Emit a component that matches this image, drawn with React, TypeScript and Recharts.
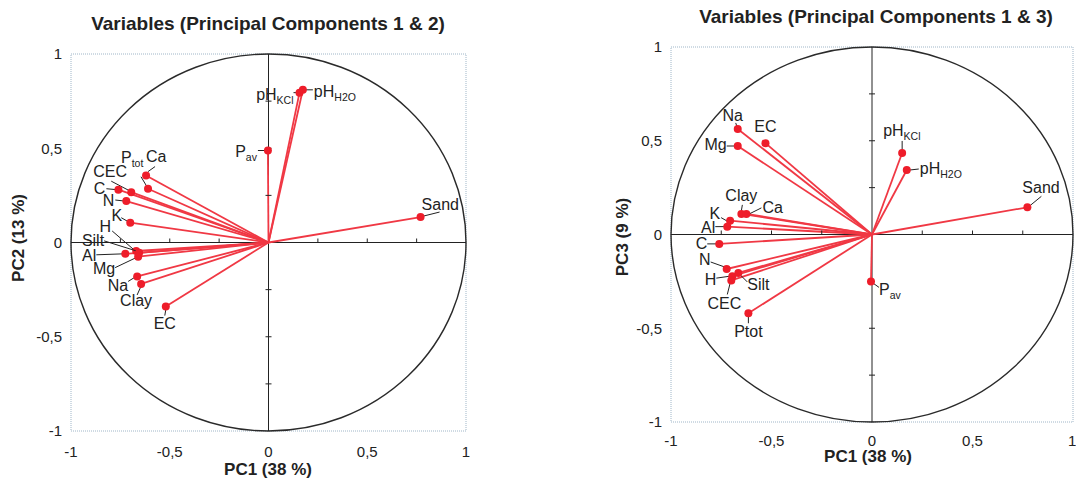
import React from "react";
import {
  ScatterChart,
  Scatter,
  XAxis,
  YAxis,
  ReferenceLine,
  ReferenceArea,
  ReferenceDot,
} from "recharts";

// loadings on PC1 / PC2
const pc12 = [
  { name: "pH_KCl", x: 0.157, y: 0.795 },
  { name: "pH_H2O", x: 0.174, y: 0.81 },
  { name: "P_av", x: -0.003, y: 0.488 },
  { name: "Sand", x: 0.77, y: 0.135 },
  { name: "Ca", x: -0.62, y: 0.355 },
  { name: "P_tot", x: -0.61, y: 0.285 },
  { name: "CEC", x: -0.695, y: 0.267 },
  { name: "C", x: -0.76, y: 0.28 },
  { name: "N", x: -0.72, y: 0.22 },
  { name: "K", x: -0.7, y: 0.105 },
  { name: "H", x: -0.67, y: -0.045 },
  { name: "Silt", x: -0.655, y: -0.055 },
  { name: "Al", x: -0.725, y: -0.06 },
  { name: "Mg", x: -0.66, y: -0.075 },
  { name: "Na", x: -0.665, y: -0.18 },
  { name: "Clay", x: -0.645, y: -0.22 },
  { name: "EC", x: -0.52, y: -0.34 },
];

// loadings on PC1 / PC3
const pc13 = [
  { name: "Na", x: -0.668, y: 0.563 },
  { name: "EC", x: -0.53, y: 0.487 },
  { name: "Mg", x: -0.668, y: 0.472 },
  { name: "Clay", x: -0.65, y: 0.11 },
  { name: "Ca", x: -0.625, y: 0.11 },
  { name: "K", x: -0.706, y: 0.074 },
  { name: "Al", x: -0.72, y: 0.042 },
  { name: "C", x: -0.76, y: -0.05 },
  { name: "N", x: -0.723, y: -0.184 },
  { name: "H", x: -0.695, y: -0.222 },
  { name: "CEC", x: -0.7, y: -0.245 },
  { name: "Silt", x: -0.665, y: -0.205 },
  { name: "Ptot", x: -0.615, y: -0.42 },
  { name: "P_av", x: -0.005, y: -0.25 },
  { name: "pH_KCl", x: 0.15, y: 0.435 },
  { name: "pH_H2O", x: 0.173, y: 0.344 },
  { name: "Sand", x: 0.773, y: 0.145 },
];

const axisTicks = [-1, -0.5, 0, 0.5, 1];
const minorTicks = [-0.75, -0.5, -0.25, 0.25, 0.5, 0.75];

type Lay = { a: "start" | "middle" | "end"; dx: number; dy: number; l?: number[] };

// label placement (px, relative to the point) + leader line
const lay12: Record<string, Lay> = {
  Ca: { a: "start", dx: 0, dy: -14, l: [2, -4, 9, -9] },
  P_tot: { a: "start", dx: -27, dy: -26, l: [-1, -2, -7, -12] },
  CEC: { a: "start", dx: -38, dy: -15, l: [-1, -1, -20, -11] },
  C: { a: "end", dx: -13, dy: 4, l: [-1, 0, -12, -1] },
  N: { a: "end", dx: -12, dy: 5, l: [-2, 0, -11, -1] },
  K: { a: "end", dx: -8, dy: -2, l: [-2, -1, -9, -5] },
  H: { a: "end", dx: -25, dy: -19, l: [-2, -1, -24, -20] },
  Silt: { a: "end", dx: -35, dy: -7, l: [-3, -2, -35, -12] },
  Al: { a: "end", dx: -29, dy: 7, l: [-1, 0, -29, 1] },
  Mg: { a: "end", dx: -23, dy: 17, l: [-2, 1, -23, 11] },
  Na: { a: "end", dx: -9, dy: 15, l: [-1, 0, -9, 5] },
  Clay: { a: "middle", dx: -5, dy: 22, l: [0, 2, -4, 11] },
  EC: { a: "middle", dx: -1, dy: 22, l: [0, 3, -1, 9] },
  pH_KCl: { a: "end", dx: -6, dy: 7, l: [-1, 0, -6, 0] },
  pH_H2O: { a: "start", dx: 11, dy: 7, l: [1, 0, 10, 0] },
  P_av: { a: "end", dx: -11, dy: 6, l: [-2, 0, -10, 0] },
  Sand: { a: "start", dx: 1, dy: -7, l: [3, -1, 19, -5] },
};

const lay13: Record<string, Lay> = {
  Na: { a: "middle", dx: -5, dy: -8, l: [-1, -3, -2, -6] },
  EC: { a: "middle", dx: 0, dy: -11 },
  Mg: { a: "end", dx: -11, dy: 4, l: [-2, 0, -11, 0] },
  Clay: { a: "middle", dx: 0, dy: -13, l: [0, -3, 1, -9] },
  Ca: { a: "start", dx: 16, dy: -1, l: [3, 0, 15, -6] },
  K: { a: "end", dx: -10, dy: -2, l: [-2, 1, -9, -3] },
  Al: { a: "end", dx: -12, dy: 6, l: [-2, 0, -12, 0] },
  C: { a: "end", dx: -12, dy: 5, l: [-2, 0, -12, 0] },
  N: { a: "end", dx: -16, dy: -4, l: [-2, -2, -16, -7] },
  H: { a: "end", dx: -16, dy: 9, l: [-2, 0, -16, 2] },
  CEC: { a: "middle", dx: -7, dy: 29, l: [-1, 2, -4, 14] },
  Silt: { a: "start", dx: 9, dy: 17, l: [2, 2, 9, 9] },
  Ptot: { a: "middle", dx: 0, dy: 24, l: [0, 3, 0, 10] },
  P_av: { a: "start", dx: 8, dy: 14, l: [1, 1, 8, 6] },
  pH_KCl: { a: "start", dx: -19, dy: -17, l: [0, -3, 0, -12] },
  pH_H2O: { a: "start", dx: 13, dy: 4, l: [3, 0, 12, -1] },
  Sand: { a: "start", dx: -5, dy: -14, l: [3, -2, 14, -11] },
};

const FONT = "'Liberation Sans', Arial, sans-serif";
const RED = "#ee1d2a";
const TXT = "#222";

const fmt = (v: number) => String(v).replace(".", ",");

const makeShape = (lay: Record<string, Lay>) => (props: any) => {
  const { cx, cy, payload } = props;
  const L = lay[payload.name];
  const [main, sub] = payload.name.split("_");
  return (
    <g>
      {L.l && (
        <line
          x1={cx + L.l[0]}
          y1={cy + L.l[1]}
          x2={cx + L.l[2]}
          y2={cy + L.l[3]}
          stroke="#222"
          strokeWidth={1}
        />
      )}
      <circle cx={cx} cy={cy} r={4} fill={RED} />
      <text
        x={cx + L.dx}
        y={cy + L.dy}
        textAnchor={L.a}
        fontSize={16}
        fontFamily={FONT}
        fill={TXT}
      >
        {main}
        {sub && (
          <tspan fontSize={10.5} dy={4}>
            {sub}
          </tspan>
        )}
      </text>
    </g>
  );
};

const frame = (props: any) => {
  const { x, y, width, height } = props;
  return (
    <g>
      <rect
        x={x}
        y={y}
        width={width}
        height={height}
        fill="none"
        stroke="#9fb6c8"
        strokeDasharray="1 1"
      />
      <ellipse
        cx={x + width / 2}
        cy={y + height / 2}
        rx={width / 2}
        ry={height / 2}
        fill="none"
        stroke="#2a2a2a"
        strokeWidth={1.4}
      />
    </g>
  );
};

const hTick = (p: any) => (
  <line x1={p.cx} y1={p.cy - 4} x2={p.cx} y2={p.cy} stroke="#222" strokeWidth={1} />
);
const vTick = (p: any) => (
  <line x1={p.cx - 3} y1={p.cy} x2={p.cx + 3} y2={p.cy} stroke="#222" strokeWidth={1} />
);

const tickStyle = { fill: TXT, fontSize: 15, fontFamily: FONT };

type PanelProps = {
  data: { name: string; x: number; y: number }[];
  lay: Record<string, Lay>;
  left: number;
  width: number;
  margin: { top: number; right: number; bottom: number; left: number };
  yWidth: number;
  xTickMargin: number;
};

const Panel = ({ data, lay, left, width, margin, yWidth, xTickMargin }: PanelProps) => (
  <div style={{ position: "absolute", left, top: 0 }}>
    <ScatterChart width={width} height={481} margin={margin}>
      <XAxis
        type="number"
        dataKey="x"
        domain={[-1, 1]}
        ticks={axisTicks}
        tickFormatter={fmt}
        axisLine={false}
        tickLine={false}
        tickMargin={xTickMargin}
        tick={tickStyle}
        height={30}
        allowDataOverflow
      />
      <YAxis
        type="number"
        dataKey="y"
        domain={[-1, 1]}
        ticks={axisTicks}
        tickFormatter={fmt}
        axisLine={false}
        tickLine={false}
        tickMargin={3}
        tick={tickStyle}
        width={yWidth}
        allowDataOverflow
      />
      <ReferenceArea x1={-1} x2={1} y1={-1} y2={1} shape={frame} />
      <ReferenceLine x={0} stroke="#222" strokeWidth={1} />
      <ReferenceLine y={0} stroke="#222" strokeWidth={1} />
      {minorTicks.map((t) => (
        <ReferenceDot key={"h" + t} x={t} y={0} shape={hTick} />
      ))}
      {minorTicks.map((t) => (
        <ReferenceDot key={"v" + t} x={0} y={t} shape={vTick} />
      ))}
      {data.map((d) => (
        <ReferenceLine
          key={"seg" + d.name}
          segment={[
            { x: 0, y: 0 },
            { x: d.x, y: d.y },
          ]}
          stroke="#f03844"
          strokeWidth={1.8}
        />
      ))}
      <Scatter data={data} shape={makeShape(lay)} isAnimationActive={false} />
    </ScatterChart>
  </div>
);

const txt = (extra: React.CSSProperties): React.CSSProperties => ({
  position: "absolute",
  fontFamily: FONT,
  fontWeight: "bold",
  color: TXT,
  whiteSpace: "nowrap",
  textAlign: "center",
  ...extra,
});

export default function App() {
  return (
    <div
      style={{
        position: "absolute",
        left: 0,
        top: 0,
        width: 1076,
        height: 481,
        background: "#fff",
        overflow: "hidden",
      }}
    >
      <div style={txt({ left: 68, width: 400, top: 13, fontSize: 19, lineHeight: "22px" })}>
        Variables (Principal Components 1 &amp; 2)
      </div>
      <div style={txt({ left: 676, width: 400, top: 6, fontSize: 19, lineHeight: "22px" })}>
        Variables (Principal Components 1 &amp; 3)
      </div>
      <div style={txt({ left: 206, width: 124, top: 460, fontSize: 17, lineHeight: "20px" })}>
        PC1 (38 %)
      </div>
      <div style={txt({ left: 806, width: 124, top: 447, fontSize: 17, lineHeight: "20px" })}>
        PC1 (38 %)
      </div>
      <div
        style={txt({
          left: 19 - 62,
          width: 124,
          top: 238 - 10,
          fontSize: 17,
          lineHeight: "20px",
          transform: "rotate(-90deg)",
        })}
      >
        PC2 (13 %)
      </div>
      <div
        style={txt({
          left: 623 - 62,
          width: 124,
          top: 237 - 10,
          fontSize: 17,
          lineHeight: "20px",
          transform: "rotate(-90deg)",
        })}
      >
        PC3 (9 %)
      </div>
      <Panel
        data={pc12}
        lay={lay12}
        left={0}
        width={480}
        margin={{ top: 54, right: 14, bottom: 20, left: 0 }}
        yWidth={71}
        xTickMargin={9}
      />
      <Panel
        data={pc13}
        lay={lay13}
        left={560}
        width={516}
        margin={{ top: 47, right: 3, bottom: 29, left: 81 }}
        yWidth={30}
        xTickMargin={7}
      />
    </div>
  );
}
